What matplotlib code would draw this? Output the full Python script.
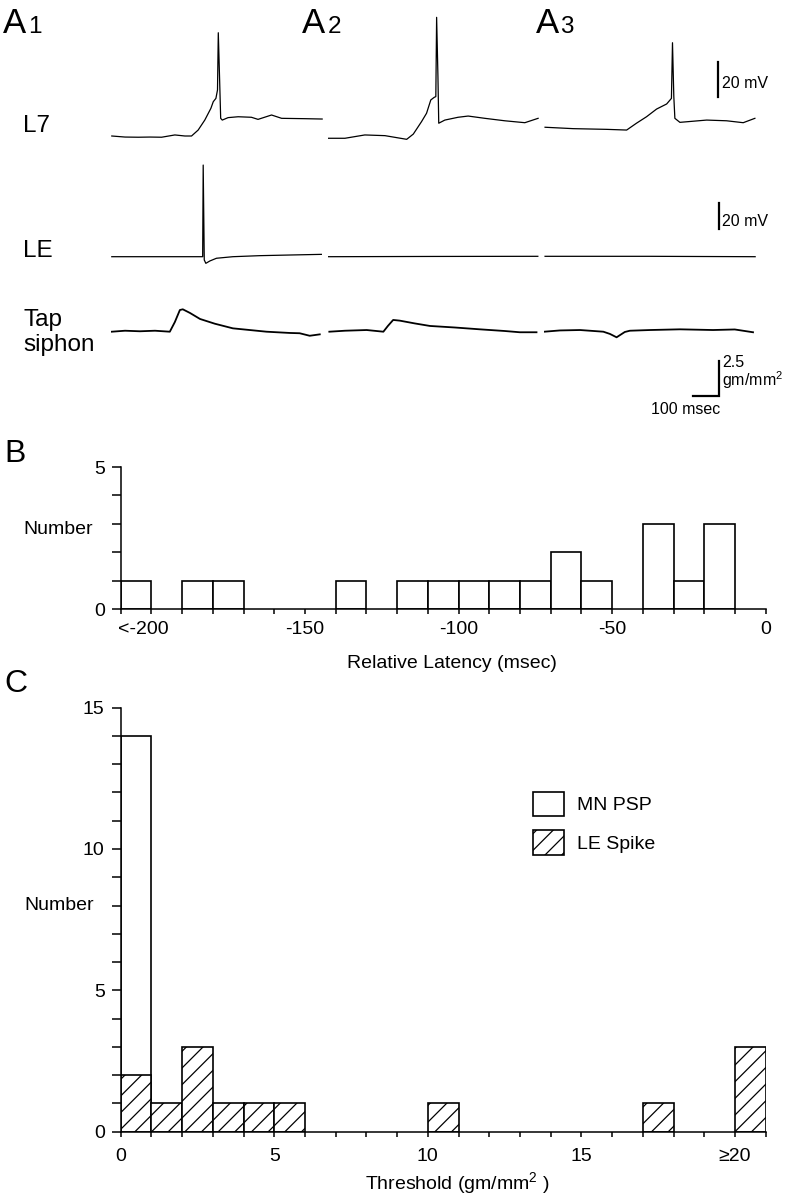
import matplotlib
matplotlib.use('Agg')
import matplotlib.pyplot as plt
from matplotlib.patches import Patch

plt.rcParams['font.family'] = ['Liberation Sans', 'DejaVu Sans']
plt.rcParams['mathtext.fontset'] = 'custom'
plt.rcParams['mathtext.rm'] = 'Liberation Sans'
plt.rcParams['mathtext.it'] = 'Liberation Sans:italic'
plt.rcParams['hatch.linewidth'] = 0.9

# ---------------- data: traces (time in msec, L7/LE in mV, tap in gm/mm^2) ----------------
L7_A1_T = [3, 53, 103, 147, 191, 241, 279, 304, 329, 354, 377, 386, 396, 402, 405, 410, 414, 420, 442, 480, 530, 555, 606, 644, 731, 797]
L7_A1_V = [0, -0.6, -0.7, -0.6, -0.7, 0.6, 0, 0, 3.4, 9.1, 15.8, 19.6, 21.5, 26.3, 59.0, 32, 10.1, 9.1, 10.5, 11, 10.7, 9.5, 12, 10.1, 9.9, 9.7]
L7_A2_T = [1, 64, 139, 215, 297, 322, 353, 372, 388, 401, 407, 410, 415, 418, 441, 491, 529, 592, 667, 743, 793]
L7_A2_V = [-1.3, -1.3, 0.6, 0.2, -1.9, 1.1, 8.2, 13, 20.6, 22.1, 22.5, 67.8, 33.9, 7.3, 9.1, 10.7, 11.4, 10.1, 8.7, 7.6, 10.1]
L7_A3_T = [4, 110, 236, 312, 349, 387, 425, 463, 481, 485, 490, 494, 513, 614, 689, 752, 796]
L7_A3_V = [5, 4.2, 3.8, 3.4, 7.3, 11, 15.4, 18.3, 21.5, 53.3, 22.5, 10.1, 7.8, 9.1, 8.7, 7.6, 10.1]

LE_A1_T = [3, 147, 336, 346, 348, 352, 358, 373, 398, 460, 562, 675, 794]
LE_A1_V = [0, 0, 0, 0, 70.5, -2.5, -5.1, -3.3, -1.2, 0, 0.8, 1.3, 1.8]
LE_A2_T = [1, 400, 792]
LE_A2_V = [0, 0.2, 0.3]
LE_A3_T = [4, 400, 797]
LE_A3_V = [0.3, 0.3, 0]

TAP_A1_T = [3, 53, 109, 166, 222, 241, 260, 271, 298, 336, 392, 460, 587, 675, 712, 750, 788]
TAP_A1_V = [0, 0.07, 0.03, 0.07, 0, 0.69, 1.55, 1.6, 1.34, 0.91, 0.57, 0.24, 0, -0.09, -0.11, -0.29, -0.19]
TAP_A2_T = [5, 64, 146, 209, 226, 246, 271, 328, 385, 479, 573, 667, 724, 787]
TAP_A2_V = [0, 0.07, 0.12, 0, 0.41, 0.84, 0.79, 0.59, 0.41, 0.3, 0.17, 0.05, -0.04, -0.04]
TAP_A3_T = [1, 60, 136, 224, 249, 274, 305, 324, 400, 513, 638, 720, 789]
TAP_A3_V = [0, 0.09, 0.12, 0, -0.16, -0.4, -0.02, 0.07, 0.12, 0.17, 0.12, 0.16, -0.04]

# ---------------- data: histogram B ----------------
LATENCY_BIN_LEFT = [-210, -200, -190, -180, -170, -160, -150, -140, -130, -120,
                    -110, -100, -90, -80, -70, -60, -50, -40, -30, -20]
LATENCY_COUNTS = [1, 0, 1, 1, 0, 0, 0, 1, 0, 1, 1, 1, 1, 1, 2, 1, 0, 3, 1, 3]
LATENCY_TICK_LABELS = ['<-200', '-150', '-100', '-50', '0']

# ---------------- data: histogram C ----------------
THRESH_BIN_LEFT = [0, 1, 2, 3, 4, 5, 6, 7, 8, 9, 10, 11, 12, 13, 14, 15, 16, 17, 18, 19, 20]
MN_PSP_COUNTS = [14, 0, 0, 0, 0, 0, 0, 0, 0, 0, 0, 0, 0, 0, 0, 0, 0, 0, 0, 0, 0]
LE_SPIKE_COUNTS = [2, 1, 3, 1, 1, 1, 0, 0, 0, 0, 1, 0, 0, 0, 0, 0, 0, 1, 0, 0, 3]
THRESH_TICK_LABELS = ['0', '5', '10', '15', '\u226520']

# ---------------- layout helpers (pixels) ----------------
W, H = 788, 1199
fig = plt.figure(figsize=(W / 100, H / 100), dpi=100)


def fx(x):
    return x / W


def fy(y):
    return 1 - y / H


def axes_px(left, top, right, bottom):
    return fig.add_axes([left / W, 1 - bottom / H, (right - left) / W, (bottom - top) / H])


# ---------------- panel A traces ----------------
COL_LEFT = [111, 328, 544]
COL_WIDTH = 213          # px  -> 0.265 px / msec
T_RANGE = (0, 804)
ROWS = {
    'L7': dict(top=10, bottom=145, ylim=(-5.143, 72.0), lw=0.9,
               data=[(L7_A1_T, L7_A1_V), (L7_A2_T, L7_A2_V), (L7_A3_T, L7_A3_V)]),
    'LE': dict(top=155, bottom=270, ylim=(-10.23, 78.23), lw=0.9,
               data=[(LE_A1_T, LE_A1_V), (LE_A2_T, LE_A2_V), (LE_A3_T, LE_A3_V)]),
    'TAP': dict(top=290, bottom=400, ylim=(-4.879, 2.979), lw=1.3,
                data=[(TAP_A1_T, TAP_A1_V), (TAP_A2_T, TAP_A2_V), (TAP_A3_T, TAP_A3_V)]),
}
row_axes = {}
for name, r in ROWS.items():
    axs = []
    for c, (t, v) in enumerate(r['data']):
        ax = axes_px(COL_LEFT[c], r['top'], COL_LEFT[c] + COL_WIDTH, r['bottom'])
        ax.plot(t, v, color='black', lw=r['lw'], solid_joinstyle='round')
        ax.set_xlim(*T_RANGE)
        ax.set_ylim(*r['ylim'])
        ax.axis('off')
        axs.append(ax)
    row_axes[name] = axs

# scale bars (in col 3 axes)
SB_T = 657
ax = row_axes['L7'][2]
ax.plot([SB_T, SB_T], [22.5, 42.5], color='black', lw=1.6, clip_on=False)
ax = row_axes['LE'][2]
ax.plot([SB_T + 3, SB_T + 3], [21.1, 41.1], color='black', lw=1.6, clip_on=False)
ax = row_axes['TAP'][2]
ax.plot([SB_T + 4 - 100, SB_T + 4, SB_T + 4], [-4.6, -4.6, -2.1], color='black', lw=1.6,
        clip_on=False, solid_joinstyle='miter')

fig.text(fx(722), fy(84), '20 mV', fontsize=11.5, ha='left', va='center')
fig.text(fx(722), fy(221), '20 mV', fontsize=11.5, ha='left', va='center')
fig.text(fx(722), fy(386), '2.5\ngm/mm$^2$', fontsize=11.5, ha='left', va='baseline',
         linespacing=0.95)
fig.text(fx(686), fy(410), '100 msec', fontsize=11.5, ha='center', va='center')

# row labels
fig.text(fx(23), fy(131.7), 'L7', fontsize=17.5, ha='left', va='baseline')
fig.text(fx(23), fy(256.7), 'LE', fontsize=17.5, ha='left', va='baseline')
fig.text(fx(23), fy(326), 'Tap', fontsize=17.5, ha='left', va='baseline')
fig.text(fx(23), fy(351.5), 'siphon', fontsize=17.5, ha='left', va='baseline')

# panel labels
for a_x, d_x, d in [(3, 28, '1'), (302, 327.5, '2'), (535.5, 560.5, '3')]:
    fig.text(fx(a_x), fy(33.3), 'A', fontsize=25, ha='left', va='baseline')
    fig.text(fx(d_x), fy(33.3), d, fontsize=17.5, ha='left', va='baseline')
fig.text(fx(4.5), fy(461.7), 'B', fontsize=23, ha='left', va='baseline')
fig.text(fx(4.5), fy(691.5), 'C', fontsize=23, ha='left', va='baseline')


# ---------------- common axis styling ----------------
def style_hist(ax):
    for s in ('top', 'right'):
        ax.spines[s].set_visible(False)
    for s in ('left', 'bottom'):
        ax.spines[s].set_linewidth(1.1)
    ax.tick_params(axis='y', direction='out', length=6.5, width=1.1, pad=5, labelsize=14)
    ax.tick_params(axis='x', which='major', direction='out', length=3.6, width=1.1, labelsize=14)
    ax.xaxis.remove_overlapping_locs = False


# ---------------- panel B ----------------
axB = axes_px(120.7, 467, 765.7, 609)
b_left = [x for x, n in zip(LATENCY_BIN_LEFT, LATENCY_COUNTS) if n > 0]
b_cnt = [n for n in LATENCY_COUNTS if n > 0]
axB.bar(b_left, b_cnt, width=10, align='edge', facecolor='white', edgecolor='black',
        linewidth=1.2, zorder=3)
axB.set_xlim(-210, 0)
axB.set_ylim(0, 5)
style_hist(axB)
axB.set_yticks([0, 1, 2, 3, 4, 5], labels=['0', '', '', '', '', '5'])
axB.set_xticks(LATENCY_BIN_LEFT + [-10, 0], labels=[''] * 22)
axB.set_xticks([-202.7, -150, -100, -50, 0], labels=LATENCY_TICK_LABELS, minor=True)
axB.tick_params(axis='x', which='minor', length=0, pad=9, labelsize=14)
for sp in axB.spines.values():
    sp.set_zorder(4)
fig.text(fx(451.5), fy(663), 'Relative Latency (msec)', fontsize=14, ha='center', va='center')
fig.text(fx(58.5), fy(530), 'Number', fontsize=14, ha='center', va='center')

# ---------------- panel C ----------------
axC = axes_px(120.7, 707.6, 765.7, 1131.7)
c_left = [x for x, n in zip(THRESH_BIN_LEFT, MN_PSP_COUNTS) if n > 0]
c_cnt = [n for n in MN_PSP_COUNTS if n > 0]
axC.bar(c_left, c_cnt, width=1, align='edge', facecolor='white', edgecolor='black',
        linewidth=1.2, zorder=2, label='MN PSP')
s_left = [x for x, n in zip(THRESH_BIN_LEFT, LE_SPIKE_COUNTS) if n > 0]
s_cnt = [n for n in LE_SPIKE_COUNTS if n > 0]
axC.bar(s_left, s_cnt, width=1, align='edge', facecolor='white', edgecolor='black',
        linewidth=1.2, hatch='//', zorder=3, label='LE Spike')
axC.set_xlim(0, 21)
axC.set_ylim(0, 15)
style_hist(axC)
axC.set_yticks(list(range(16)),
               labels=[str(i) if i % 5 == 0 else '' for i in range(16)])
axC.set_xticks(THRESH_BIN_LEFT + [21], labels=[''] * 22)
axC.set_xticks([0, 5, 10, 15, 20], labels=THRESH_TICK_LABELS, minor=True)
axC.tick_params(axis='x', which='minor', length=0, pad=12, labelsize=14)
for sp in axC.spines.values():
    sp.set_zorder(4)
fig.text(fx(457), fy(1183), 'Threshold (gm/mm$^{2}$ )', fontsize=14, ha='center', va='center')
fig.text(fx(59), fy(905), 'Number', fontsize=14, ha='center', va='center')

handles = [Patch(facecolor='white', edgecolor='black', linewidth=1.2),
           Patch(facecolor='white', edgecolor='black', linewidth=1.2, hatch='//')]
axC.legend(handles, ['MN PSP', 'LE Spike'], loc='upper left',
           bbox_to_anchor=((532.7 - 120.7) / 645, (1131.7 - 791.7) / 424.1),
           frameon=False, borderpad=0, borderaxespad=0, fontsize=14,
           handlelength=1.6, handleheight=1.55, handletextpad=0.7, labelspacing=0.74)

fig.savefig('out.png', dpi=100, facecolor='white')
